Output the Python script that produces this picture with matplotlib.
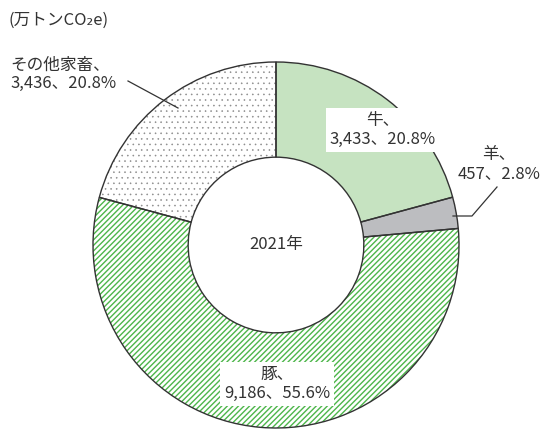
import matplotlib
matplotlib.use("Agg")
import matplotlib.pyplot as plt

plt.rcParams['font.family'] = ['Noto Sans CJK JP', 'DejaVu Sans']
plt.rcParams['hatch.linewidth'] = 1.0

categories = ["牛", "羊", "豚", "その他家畜"]
values = [3433, 457, 9186, 3436]
percents = [20.8, 2.8, 55.6, 20.8]
year_label = "2021年"
unit_label = "(万トンCO₂e)"

W, H = 543, 434
fig = plt.figure(figsize=(W / 100, H / 100), dpi=100)
ax = fig.add_axes([0, 0, 1, 1])

cx, cy = 276, H - 245
R = 183
ring = 0.52

faces = ['#c6e3c1', '#bcbdc0', 'white', 'white']
hatches = [None, None, '//////', '...']
hatch_cols = ['#c6e3c1', '#bcbdc0', '#4db64a', '#8c8c8c']
hatch_lws = [1.0, 1.0, 1.0, 0.4]

# hatch layer
wedges, _ = ax.pie(values, startangle=90, counterclock=False, center=(cx, cy),
                   radius=R, colors=faces, frame=True,
                   wedgeprops=dict(width=R * ring, linewidth=0))
for w, h, hc, hl in zip(wedges, hatches, hatch_cols, hatch_lws):
    if h:
        w.set_hatch(h)
        w.set_edgecolor(hc)
        if hasattr(w, 'set_hatch_linewidth'):
            w.set_hatch_linewidth(hl)
# outline layer
ax.pie(values, startangle=90, counterclock=False, center=(cx, cy), radius=R,
       colors=['none'] * 4, frame=True,
       wedgeprops=dict(width=R * ring, linewidth=1.0, edgecolor='#333333', fill=False))
ax.set_xlim(0, W)
ax.set_ylim(0, H)
ax.set_aspect('equal')
ax.axis('off')

def fmt(i):
    return f"{values[i]:,}、{percents[i]}%"

tc = '#333333'
fs = 12
ax.text(383, H - 130, f"{categories[0]}、\n{fmt(0)}", ha='center', va='center',
        fontsize=fs, color=tc, linespacing=1.1,
        bbox=dict(facecolor='white', edgecolor='none', pad=3))
ax.text(499, H - 164, f"{categories[1]}、\n{fmt(1)}", ha='center', va='center',
        fontsize=fs, color=tc, linespacing=1.1)
ax.text(277, H - 384, f"{categories[2]}、\n{fmt(2)}", ha='center', va='center',
        fontsize=fs, color=tc, linespacing=1.1,
        bbox=dict(facecolor='white', edgecolor='none', pad=3))
ax.text(10, H - 74, f"{categories[3]}、\n{fmt(3)}", ha='left', va='center',
        fontsize=fs, color=tc, linespacing=1.1)
ax.text(cx, cy, year_label, ha='center', va='center', fontsize=fs, color=tc)
ax.text(8, H - 20, unit_label, ha='left', va='center', fontsize=fs, color=tc)

# leader lines
ax.plot([128, 178], [H - 81, H - 108], color='#333333', lw=0.9)
ax.plot([497, 472, 453], [H - 187, H - 216, H - 216], color='#333333', lw=0.9)

fig.savefig("out.png", dpi=100)
